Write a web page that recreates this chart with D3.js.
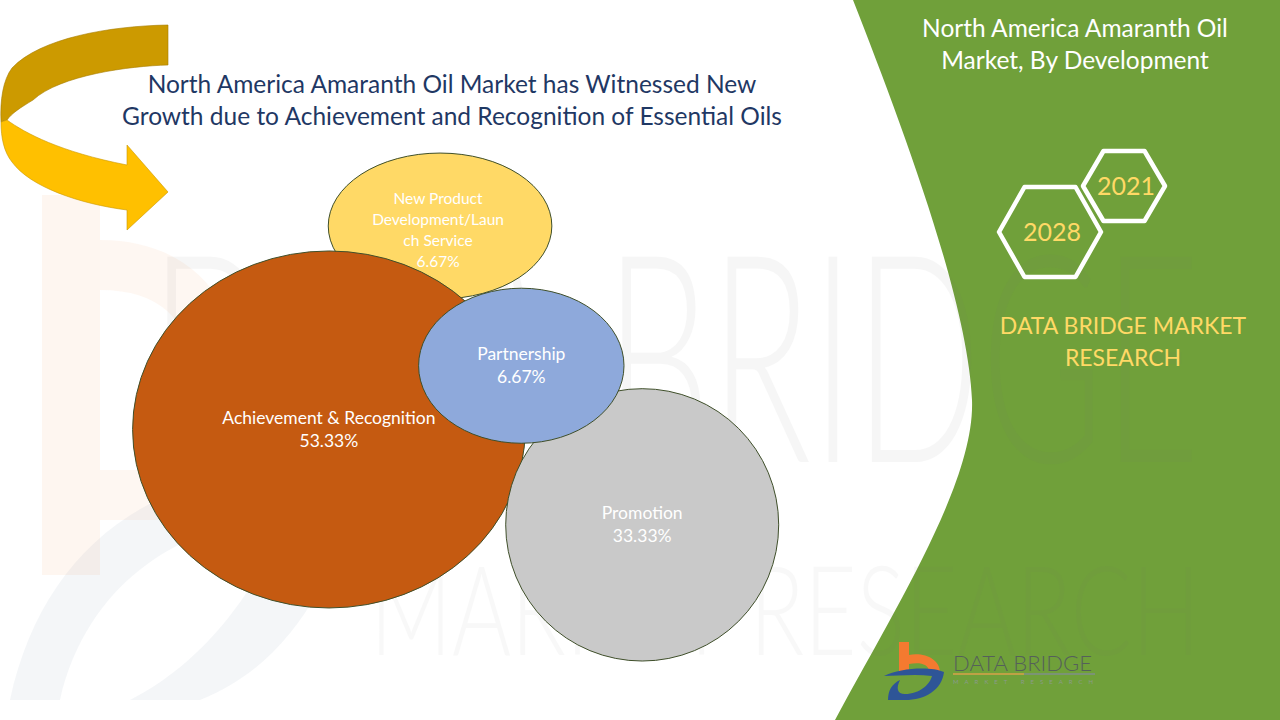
<!DOCTYPE html>
<html>
<head>
<meta charset="utf-8">
<script src="https://cdn.jsdelivr.net/npm/d3@7"></script>
<style>
  html, body { margin: 0; padding: 0; background: #ffffff; }
  svg { display: block; }
</style>
</head>
<body>
<svg id="chart" width="1280" height="720"></svg>
<script>
// ---------------- DATA ----------------
// drawing order: back to front
const categories = ["New Product Development/Launch Service", "Achievement & Recognition", "Promotion", "Partnership"];
const labelLines = [["New Product", "Development/Laun", "ch Service"], ["Achievement & Recognition"], ["Promotion"], ["Partnership"]];
const shares = [6.67, 53.33, 33.33, 6.67];
// bubble centre and half-extent in chart units (0..10 on each axis)
const posX  = [4.77, 3.06, 7.88, 6.02];
const posY  = [8.51, 4.52, 2.65, 5.77];
const spanX = [1.72, 3.02, 2.10, 1.58];
const spanY = [1.43, 3.50, 2.67, 1.52];
const bubbleColors = ["#FFD966", "#C55A11", "#C9C9C9", "#8EA9DB"];
const years = ["2028", "2021"];

const chartTitle = ["North America Amaranth Oil Market has Witnessed New", "Growth due to Achievement and Recognition of Essential Oils"];
const panelTitle = ["North America Amaranth Oil", "Market, By Development"];
const brandText = ["DATA BRIDGE MARKET", "RESEARCH"];

// ---------------- SETUP ----------------
const svg = d3.select("#chart");
const FONT = "Lato, 'Open Sans', sans-serif";

const x = d3.scaleLinear().domain([0, 10]).range([130, 780]);
const y = d3.scaleLinear().domain([0, 10]).range([660, 150]);

// ---------------- LOGO WATERMARK (left) ----------------
const wm = svg.append("g").attr("class", "watermark");
wm.append("rect").attr("x", 42).attr("y", 195).attr("width", 58).attr("height", 380)
  .attr("fill", "#F4B183").attr("opacity", 0.12);
wm.append("path")
  .attr("d", "M100,240 C190,240 240,300 240,380 L240,420 C240,470 210,500 170,520 L100,520 L100,470 L160,470 C185,460 190,440 190,410 L190,370 C190,320 160,290 100,290 Z")
  .attr("fill", "#F4B183").attr("opacity", 0.10);
wm.append("path")
  .attr("d", "M10,700 C40,560 140,470 300,470 C380,470 330,650 200,700 L130,700 C230,650 280,540 280,520 C200,520 90,570 60,700 Z")
  .attr("fill", "#8497B0").attr("opacity", 0.09);

// ---------------- GREEN PANEL ----------------
svg.append("path")
  .attr("d", "M853,0 L1280,0 L1280,720 L835,720 C900,600 975,480 972,400 C968,300 900,120 853,0 Z")
  .attr("fill", "#70A03A");

// faint text watermark across page
const wmText = svg.append("g").attr("class", "watermark-text");
wmText.append("text").attr("x", 150).attr("y", 462)
  .attr("font-family", FONT).attr("font-size", 290).attr("font-weight", 300)
  .attr("textLength", 1050).attr("lengthAdjust", "spacingAndGlyphs")
  .attr("fill", "#707070").attr("opacity", 0.06).text("DATA BRIDGE");
wmText.append("text").attr("x", 370).attr("y", 655)
  .attr("font-family", FONT).attr("font-size", 125).attr("font-weight", 300)
  .attr("textLength", 830).attr("lengthAdjust", "spacingAndGlyphs")
  .attr("fill", "#707070").attr("opacity", 0.045).text("MARKET RESEARCH");

// panel title
svg.append("g").selectAll("text").data(panelTitle).join("text")
  .attr("x", 1075).attr("y", (d, i) => 37 + i * 32)
  .attr("text-anchor", "middle").attr("font-family", FONT).attr("font-size", 24.5)
  .attr("fill", "#ffffff").text(d => d);

// hexagons
const hexData = [
  { cx: 1050, cy: 232, hw: 51, hh: 45, label: years[0] },
  { cx: 1124, cy: 186, hw: 41, hh: 35, label: years[1] }
];
const hexG = svg.append("g");
hexG.selectAll("path").data(hexData).join("path")
  .attr("d", h => d3.line()([
    [h.cx - h.hw, h.cy], [h.cx - h.hw / 2, h.cy - h.hh], [h.cx + h.hw / 2, h.cy - h.hh],
    [h.cx + h.hw, h.cy], [h.cx + h.hw / 2, h.cy + h.hh], [h.cx - h.hw / 2, h.cy + h.hh]
  ]) + "Z")
  .attr("fill", "none").attr("stroke", "#ffffff").attr("stroke-width", 4.5)
  .attr("stroke-linejoin", "round");
hexG.selectAll("text").data(hexData).join("text")
  .attr("x", h => h.cx + 2).attr("y", h => h.cy + 9)
  .attr("text-anchor", "middle").attr("font-family", FONT).attr("font-size", 25)
  .attr("fill", "#FFD966").text(h => h.label);

// brand text
svg.append("g").selectAll("text").data(brandText).join("text")
  .attr("x", 1123).attr("y", (d, i) => 334 + i * 32)
  .attr("text-anchor", "middle").attr("font-family", FONT).attr("font-size", 23)
  .attr("fill", "#FFD966").text(d => d);

// logo
const logo = svg.append("g");
logo.append("path")
  .attr("d", "M899,642 L909,642 L909,655 C925,652 940,660 940,672 L929,672 C929,664 920,662 909,664 L909,672 L899,672 Z")
  .attr("fill", "#F47A30");
logo.append("path")
  .attr("d", "M884,676 C900,668 930,666 944,672 C942,690 925,700 905,700 L888,700 C888,690 892,684 900,680 C896,688 897,694 905,694 C920,694 930,684 932,676 C915,674 897,676 884,676 Z")
  .attr("fill", "#2E5597");
logo.append("text").attr("x", 953).attr("y", 671)
  .attr("font-family", FONT).attr("font-size", 22).attr("font-weight", 300)
  .attr("textLength", 139).attr("lengthAdjust", "spacingAndGlyphs")
  .attr("fill", "#55605A").text("DATA BRIDGE");
logo.append("line").attr("x1", 953).attr("x2", 1024).attr("y1", 674).attr("y2", 674)
  .attr("stroke", "#D8A24A").attr("stroke-width", 1.5);
logo.append("line").attr("x1", 1024).attr("x2", 1095).attr("y1", 674).attr("y2", 674)
  .attr("stroke", "#7F8F8A").attr("stroke-width", 1.5);
logo.append("text").attr("x", 953).attr("y", 684)
  .attr("font-family", FONT).attr("font-size", 6)
  .attr("textLength", 140).attr("lengthAdjust", "spacing")
  .attr("fill", "#8A9A8A").text("MARKET  RESEARCH");

// ---------------- ARROW ----------------
const arrow = svg.append("g");
arrow.append("path")
  .attr("d", "M168,25 L168,65 C130,66 60,75 33,100 C20,108 12,113 7,120 L1,122 C0,100 3,80 12,68 C40,38 110,26 168,25 Z")
  .attr("fill", "#CC9A00").attr("stroke", "#A67C00").attr("stroke-width", 0.6);
arrow.append("path")
  .attr("d", "M7,120 C25,133 60,152 127,165 L127,145 L168,192 L127,230 L127,210 C80,204 30,187 12,162 C4,152 1,138 1,122 Z")
  .attr("fill", "#FFC000").attr("stroke", "#C99700").attr("stroke-width", 0.6);

// ---------------- CHART TITLE ----------------
svg.append("g").selectAll("text").data(chartTitle).join("text")
  .attr("x", 452).attr("y", (d, i) => 93 + i * 32)
  .attr("text-anchor", "middle").attr("font-family", FONT).attr("font-size", 24.5)
  .attr("fill", "#1F3864").text(d => d);

// ---------------- BUBBLES ----------------
const bubbles = categories.map((c, i) => ({
  category: c, lines: labelLines[i], share: shares[i],
  cx: x(posX[i]), cy: y(posY[i]),
  rx: x(posX[i] + spanX[i]) - x(posX[i]),
  ry: y(posY[i]) - y(posY[i] + spanY[i]),
  color: bubbleColors[i]
}));

svg.append("g").selectAll("ellipse").data(bubbles).join("ellipse")
  .attr("cx", d => d.cx).attr("cy", d => d.cy)
  .attr("rx", d => d.rx).attr("ry", d => d.ry)
  .attr("fill", d => d.color)
  .attr("stroke", "#3F4F2A").attr("stroke-width", 1);

const labelG = svg.append("g");
bubbles.forEach(b => {
  const lines = b.lines.concat([d3.format(".2f")(b.share) + "%"]);
  const small = lines.length > 2;
  const fs = small ? 15.5 : 17.5;
  const lh = small ? 21 : 23;
  const top = b.cy - (lines.length - 1) * lh / 2 + (small ? 4 : 0);
  labelG.append("text")
    .attr("text-anchor", "middle").attr("font-family", FONT).attr("font-size", fs)
    .attr("fill", "#ffffff")
    .selectAll("tspan").data(lines).join("tspan")
    .attr("x", b.cx - (small ? 2 : 0)).attr("y", (d, i) => top + i * lh + fs * 0.35)
    .text(d => d);
});
</script>
</body>
</html>
